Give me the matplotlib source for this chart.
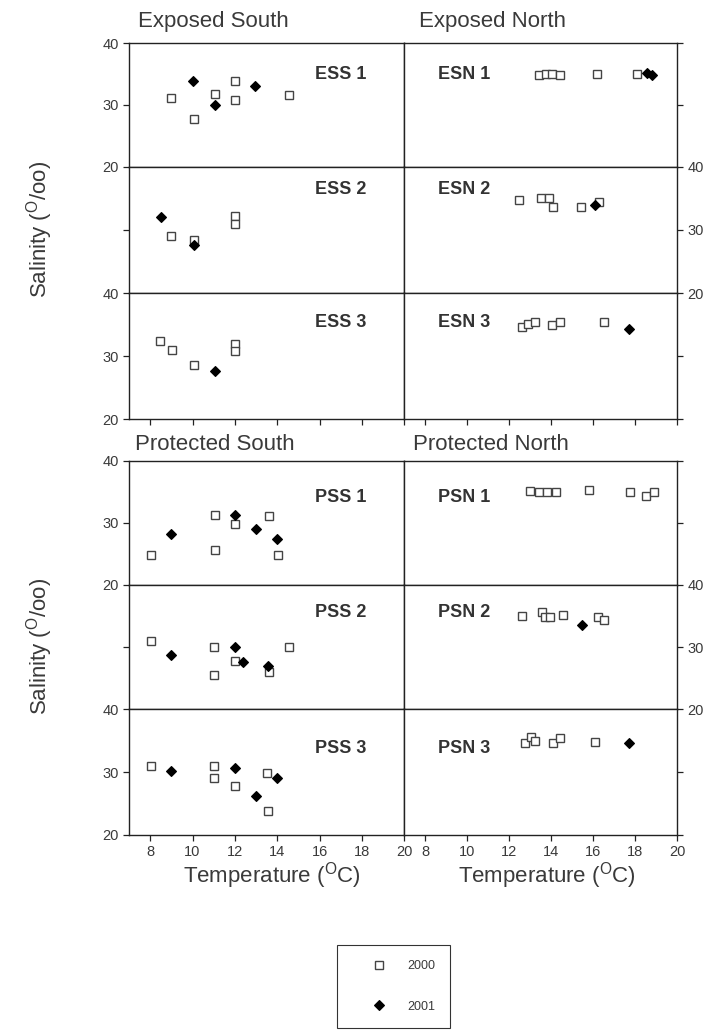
import matplotlib
matplotlib.use("Agg")
import matplotlib.pyplot as plt
from matplotlib.lines import Line2D

plt.rcParams['font.family'] = ['Liberation Sans', 'DejaVu Sans']
plt.rcParams['mathtext.fontset'] = 'custom'
plt.rcParams['mathtext.rm'] = 'Liberation Sans'

# ---------------- data (temperature degC, salinity o/oo) ----------------
# Exposed South
ESS1_T00 = [9.0, 10.05, 11.05, 12.0, 12.0, 14.55]
ESS1_S00 = [31.2, 27.7, 31.8, 33.9, 30.8, 31.7]
ESS1_T01 = [10.0, 11.05, 12.95]
ESS1_S01 = [33.9, 30.0, 33.0]

ESS2_T00 = [9.0, 10.05, 12.0, 12.0]
ESS2_S00 = [29.1, 28.4, 32.2, 30.9]
ESS2_T01 = [8.5, 10.05]
ESS2_S01 = [32.0, 27.7]

ESS3_T00 = [8.45, 9.05, 10.05, 12.0, 12.0]
ESS3_S00 = [32.4, 31.0, 28.6, 31.9, 30.9]
ESS3_T01 = [11.05]
ESS3_S01 = [27.7]

# Exposed North
ESN1_T00 = [13.4, 13.75, 14.05, 14.4, 16.2, 18.1]
ESN1_S00 = [34.9, 35.1, 35.1, 34.9, 35.0, 35.0]
ESN1_T01 = [18.55, 18.8]
ESN1_S01 = [35.2, 34.8]

ESN2_T00 = [12.45, 13.5, 13.9, 14.1, 15.4, 16.3]
ESN2_S00 = [34.7, 35.1, 35.0, 33.6, 33.6, 34.4]
ESN2_T01 = [16.1]
ESN2_S01 = [33.9]

ESN3_T00 = [12.6, 12.9, 13.25, 14.05, 14.4, 16.5]
ESN3_S00 = [34.6, 35.2, 35.4, 34.9, 35.4, 35.4]
ESN3_T01 = [17.7]
ESN3_S01 = [34.4]

# Protected South
PSS1_T00 = [8.05, 11.05, 11.05, 12.0, 13.6, 14.05]
PSS1_S00 = [24.9, 31.3, 25.6, 29.8, 31.1, 24.9]
PSS1_T01 = [9.0, 12.0, 13.0, 14.0]
PSS1_S01 = [28.2, 31.2, 29.0, 27.35]

PSS2_T00 = [8.05, 11.0, 11.0, 12.0, 13.6, 14.55]
PSS2_S00 = [31.0, 30.0, 25.5, 27.8, 25.95, 30.0]
PSS2_T01 = [9.0, 12.0, 12.4, 13.55]
PSS2_S01 = [28.7, 30.0, 27.6, 27.0]

PSS3_T00 = [8.05, 11.0, 11.0, 12.0, 13.5, 13.55]
PSS3_S00 = [31.0, 31.0, 29.0, 27.8, 29.9, 23.8]
PSS3_T01 = [9.0, 12.0, 13.0, 14.0]
PSS3_S01 = [30.2, 30.7, 26.25, 29.0]

# Protected North
PSN1_T00 = [13.0, 13.4, 13.8, 14.25, 15.8, 17.75, 18.5, 18.9]
PSN1_S00 = [35.2, 35.0, 35.0, 35.0, 35.3, 35.0, 34.3, 35.0]
PSN1_T01 = []
PSN1_S01 = []

PSN2_T00 = [12.6, 13.55, 13.7, 13.95, 14.55, 16.25, 16.5]
PSN2_S00 = [35.0, 35.6, 34.8, 34.8, 35.2, 34.8, 34.4]
PSN2_T01 = [15.45]
PSN2_S01 = [33.5]

PSN3_T00 = [12.75, 13.05, 13.25, 14.1, 14.4, 16.1]
PSN3_S00 = [34.7, 35.6, 34.9, 34.7, 35.4, 34.8]
PSN3_T01 = [17.7]
PSN3_S01 = [34.7]

PANEL_NAMES = [["ESS 1", "ESN 1"], ["ESS 2", "ESN 2"], ["ESS 3", "ESN 3"],
               ["PSS 1", "PSN 1"], ["PSS 2", "PSN 2"], ["PSS 3", "PSN 3"]]
PANEL_DATA = [
    [(ESS1_T00, ESS1_S00, ESS1_T01, ESS1_S01), (ESN1_T00, ESN1_S00, ESN1_T01, ESN1_S01)],
    [(ESS2_T00, ESS2_S00, ESS2_T01, ESS2_S01), (ESN2_T00, ESN2_S00, ESN2_T01, ESN2_S01)],
    [(ESS3_T00, ESS3_S00, ESS3_T01, ESS3_S01), (ESN3_T00, ESN3_S00, ESN3_T01, ESN3_S01)],
    [(PSS1_T00, PSS1_S00, PSS1_T01, PSS1_S01), (PSN1_T00, PSN1_S00, PSN1_T01, PSN1_S01)],
    [(PSS2_T00, PSS2_S00, PSS2_T01, PSS2_S01), (PSN2_T00, PSN2_S00, PSN2_T01, PSN2_S01)],
    [(PSS3_T00, PSS3_S00, PSS3_T01, PSS3_S01), (PSN3_T00, PSN3_S00, PSN3_T01, PSN3_S01)],
]
BLOCK_TITLES = [["Exposed South", "Exposed North"], ["Protected South", "Protected North"]]
X_TICKS = [8, 10, 12, 14, 16, 18, 20]
YEARS = ["2000", "2001"]

# ---------------- layout ----------------
W, H = 718, 1031
fig = plt.figure(figsize=(W / 100, H / 100), dpi=100)

def fx(px):
    return px / W

def fy(py):
    return 1 - py / H

col_edges = [(129.0, 404.3), (404.3, 677.0)]
block_rows = [[43.3, 166.7, 293.3, 419.3], [460.7, 585.0, 709.3, 835.0]]
label_y = [[0.75, 0.82, 0.765], [0.70, 0.78, 0.69]]

INK = '#222222'
TXT = '#3a3a3a'

for b in range(2):
    edges = block_rows[b]
    for r in range(3):
        for c in range(2):
            x0, x1 = col_edges[c]
            y0, y1 = edges[r], edges[r + 1]
            ax = fig.add_axes([fx(x0), fy(y1), fx(x1 - x0), (y1 - y0) / H])
            t00, s00, t01, s01 = PANEL_DATA[b * 3 + r][c]
            ax.plot(t00, s00, linestyle='none', marker='s', ms=5.8, mfc='white',
                    mec='#444444', mew=1.0, zorder=3)
            ax.plot(t01, s01, linestyle='none', marker='D', ms=5, mfc='black',
                    mec='black', mew=0.8, zorder=4)
            ax.set_xlim(7, 20)
            ax.set_ylim(20, 40)
            for sp in ax.spines.values():
                sp.set_color(INK)
                sp.set_linewidth(1.0)
            ax.tick_params(colors=INK, labelcolor=TXT, labelsize=10.5,
                           length=4.5, width=0.9, direction='out')
            # x ticks only on bottom row of block
            if r == 2:
                ax.set_xticks(X_TICKS)
                if b == 1:
                    ax.set_xticklabels([str(v) for v in X_TICKS])
                    ax.tick_params(axis='x', pad=3)
                else:
                    ax.set_xticklabels([])
            else:
                ax.set_xticks([])
            # y ticks
            if c == 0:
                ax.yaxis.tick_left()
                if r == 1:
                    ax.set_yticks([30])
                    ax.set_yticklabels([])
                else:
                    ax.set_yticks([20, 30, 40])
                    ax.set_yticklabels(['20', '30', '40'])
                ax.tick_params(axis='y', pad=3)
            else:
                ax.yaxis.tick_right()
                if r == 1:
                    ax.set_yticks([20, 30, 40])
                    ax.set_yticklabels(['20', '30', '40'])
                elif r == 0:
                    ax.set_yticks([30, 40])
                    ax.set_yticklabels([])
                else:
                    ax.set_yticks([20, 30])
                    ax.set_yticklabels([])
                ax.tick_params(axis='y', pad=3)
            name = PANEL_NAMES[b * 3 + r][c]
            if c == 0:
                ax.text(0.864, label_y[b][r], name, transform=ax.transAxes,
                        ha='right', va='center', fontsize=13, fontweight='bold',
                        color='#333333')
            else:
                ax.text(0.122, label_y[b][r], name, transform=ax.transAxes,
                        ha='left', va='center', fontsize=13, fontweight='bold',
                        color='#333333')

# block titles
fig.text(fx(138), fy(21), BLOCK_TITLES[0][0], ha='left', va='center', fontsize=16, color=TXT)
fig.text(fx(419), fy(21), BLOCK_TITLES[0][1], ha='left', va='center', fontsize=16, color=TXT)
fig.text(fx(135), fy(445), BLOCK_TITLES[1][0], ha='left', va='center', fontsize=16, color=TXT)
fig.text(fx(413), fy(445), BLOCK_TITLES[1][1], ha='left', va='center', fontsize=16, color=TXT)

# axis labels
ylab = 'Salinity ($^{\\mathrm{O}}$/oo)'
fig.text(fx(40), fy(229), ylab, rotation=90, ha='center', va='center', fontsize=16, color=TXT)
fig.text(fx(40), fy(646), ylab, rotation=90, ha='center', va='center', fontsize=16, color=TXT)
xlab = 'Temperature ($^{\\mathrm{O}}$C)'
fig.text(fx(272), fy(876), xlab, ha='center', va='center', fontsize=16, color=TXT)
fig.text(fx(547), fy(876), xlab, ha='center', va='center', fontsize=16, color=TXT)

# legend
handles = [
    Line2D([], [], linestyle='none', marker='s', ms=6, mfc='white', mec='#444444', mew=1.0),
    Line2D([], [], linestyle='none', marker='D', ms=5, mfc='black', mec='black', mew=0.8),
]
leg = fig.legend(handles, YEARS, loc='upper left', bbox_to_anchor=(fx(337), fy(945)),
                 bbox_transform=fig.transFigure, borderaxespad=0, fontsize=9,
                 frameon=True, fancybox=False, edgecolor='black', numpoints=1,
                 handlelength=4.3, handletextpad=0.1, borderpad=1.2, labelspacing=2.3)
leg.get_frame().set_linewidth(0.8)
for t in leg.get_texts():
    t.set_color(TXT)

fig.savefig('out.png', dpi=100)
